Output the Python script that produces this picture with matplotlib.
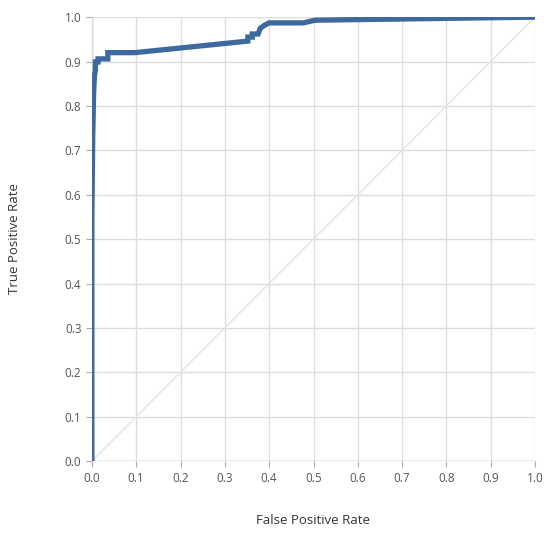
import numpy as np
from matplotlib import pyplot as plt

# ROC curve points
fpr = [0.0, 0.0, 0.002, 0.004, 0.006, 0.008, 0.008, 0.014, 0.014, 0.036, 0.036, 0.097,
       0.352, 0.352, 0.362, 0.362, 0.375, 0.38, 0.39, 0.40, 0.477, 0.503, 1.0]
tpr = [0.0, 0.55, 0.73, 0.83, 0.87, 0.88, 0.899, 0.899, 0.906, 0.906, 0.92, 0.92,
       0.946, 0.955, 0.955, 0.962, 0.962, 0.975, 0.982, 0.987, 0.987, 0.993, 1.0]
ticks = np.round(np.arange(0, 1.01, 0.1), 1)

plt.rcParams['font.family'] = ['Open Sans', 'DejaVu Sans']
fig = plt.figure(figsize=(5.5, 5.35), dpi=100)
ax = fig.add_axes([0.167, 0.138, 0.806, 0.83])

ax.plot([0, 1], [0, 1], color='#e3e3e3', lw=1)
ax.plot(fpr, tpr, color='#3d6a9e', lw=3.8, solid_joinstyle='miter')

ax.set_xlim(0, 1)
ax.set_ylim(0, 1)
ax.set_xticks(ticks)
ax.set_yticks(ticks)
ax.set_xticklabels([f'{t:.1f}' for t in ticks])
ax.set_yticklabels([f'{t:.1f}' for t in ticks])
ax.grid(color='#dddddd', lw=1)
ax.set_axisbelow(True)
for s in ax.spines.values():
    s.set_visible(False)
ax.axhline(0, color='#aaaaaa', lw=1, zorder=0)
ax.axvline(0, color='#aaaaaa', lw=1, zorder=0)
ax.tick_params(colors='#aaaaaa', labelsize=8.5, length=4, labelcolor='#555555')

# axis titles at fixed spots, as in the reference
fig.text(313 / 550, 1 - 521 / 535, 'False Positive Rate', fontsize=9.5,
         color='#333333', ha='center', va='center')
fig.text(15 / 550, 1 - 238 / 535, 'True Positive Rate', fontsize=9.5,
         color='#333333', ha='center', va='center', rotation=90)

fig.savefig('out.png', dpi=100)
